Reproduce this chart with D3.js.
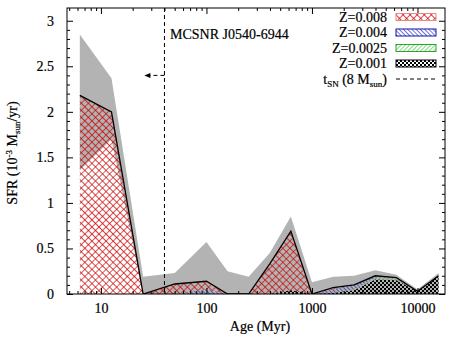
<!DOCTYPE html>
<html>
<head>
<style>
body { margin: 0; background: #fff; }
text { font-family: "Liberation Serif", "Times New Roman", serif; fill: #000; stroke: #000; stroke-width: 0.2px; }
</style>
<script src="https://d3js.org/d3.v7.min.js"></script>
</head>
<body>
<script>
// log10(age/yr) of the bins
const logAge = [6.8, 7.1, 7.4, 7.7, 8.0, 8.2, 8.4, 8.6, 8.8, 9.0, 9.2, 9.4, 9.6, 9.8, 10.0, 10.2];
// SFR per metallicity, 10^-3 Msun/yr
const z008  = [2.18, 2.0, 0, 0.11, 0.09, 0, 0, 0.33, 0.65, 0, 0.02, 0, 0, 0, 0, 0];
const z004  = [0, 0, 0, 0, 0.05, 0, 0, 0, 0, 0, 0.04, 0.05, 0.02, 0, 0, 0];
const z0025 = [0, 0, 0, 0, 0, 0, 0, 0, 0, 0, 0, 0.01, 0.02, 0.03, 0, 0];
const z001  = [0, 0, 0, 0, 0, 0, 0, 0, 0.04, 0, 0.01, 0.04, 0.16, 0.15, 0.03, 0.2];
// error band on the total
const bandLow  = [1.36, 1.7, 0, 0, 0, 0, 0, 0, 0, 0, 0, 0, 0, 0, 0, 0];
const bandHigh = [2.85, 2.37, 0.19, 0.23, 0.57, 0.25, 0.19, 0.45, 0.85, 0.13, 0.19, 0.2, 0.26, 0.21, 0.05, 0.23];
const xTicks = [10, 100, 1000, 10000];
const yTicks = [0, 0.5, 1, 1.5, 2, 2.5, 3];
const tSN = 40;          // Myr, lifetime of 8 Msun star
const arrowEnd = 25.8;   // Myr
const arrowY = 2.4;

const w = 453, h = 340;
const L = 67, R = 445, T = 8, B = 294;
const fs = 14;

const ages = logAge.map(d => Math.pow(10, d - 6));
const rows = ages.map((a, i) => ({age: a, z001: z001[i], z0025: z0025[i], z004: z004[i], z008: z008[i], lo: bandLow[i], hi: bandHigh[i]}));

const x = d3.scaleLog().domain([4.77, 18230]).range([L, R]);
const y = d3.scaleLinear().domain([0, 3.14]).range([B, T]);

const svg = d3.select("body").append("svg").attr("width", w).attr("height", h);
const defs = svg.append("defs");

// hatch patterns
const pRed = defs.append("pattern").attr("id", "pRed").attr("patternUnits", "userSpaceOnUse")
  .attr("width", 5).attr("height", 5).attr("patternTransform", "rotate(45)");
pRed.append("path").attr("d", "M0,0V5M0,0H5").attr("stroke", "#cc0000").attr("stroke-width", 1.3);

const pBlue = defs.append("pattern").attr("id", "pBlue").attr("patternUnits", "userSpaceOnUse")
  .attr("width", 3).attr("height", 3).attr("patternTransform", "rotate(-45)");
pBlue.append("path").attr("d", "M0,0V3").attr("stroke", "#1010b0").attr("stroke-width", 1.2);

const pGreen = defs.append("pattern").attr("id", "pGreen").attr("patternUnits", "userSpaceOnUse")
  .attr("width", 3).attr("height", 3).attr("patternTransform", "rotate(45)");
pGreen.append("path").attr("d", "M0,0V3").attr("stroke", "#30c030").attr("stroke-width", 1.2);

const pBlack = defs.append("pattern").attr("id", "pBlack").attr("patternUnits", "userSpaceOnUse")
  .attr("width", 4).attr("height", 4);
pBlack.append("rect").attr("x", 0).attr("y", 0).attr("width", 2).attr("height", 2).attr("fill", "#000");
pBlack.append("rect").attr("x", 2).attr("y", 2).attr("width", 2).attr("height", 2).attr("fill", "#000");

defs.append("clipPath").attr("id", "clip").append("rect")
  .attr("x", L).attr("y", T).attr("width", R - L).attr("height", B - T);

const plot = svg.append("g").attr("clip-path", "url(#clip)");

// gray error band
plot.append("path")
  .datum(rows)
  .attr("fill", "#b3b3b3")
  .attr("d", d3.area().x(d => x(d.age)).y0(d => y(d.lo)).y1(d => y(d.hi)));

// stacked metallicities
const keys = ["z001", "z0025", "z004", "z008"];
const fills = {z001: "url(#pBlack)", z0025: "url(#pGreen)", z004: "url(#pBlue)", z008: "url(#pRed)"};
const stacked = d3.stack().keys(keys)(rows);
const area = d3.area().x(d => x(d.data.age)).y0(d => y(d[0])).y1(d => y(d[1]));
plot.selectAll(".layer").data(stacked).enter().append("path")
  .attr("class", "layer")
  .attr("fill", d => fills[d.key])
  .attr("d", area);

// total line
plot.append("path")
  .datum(rows)
  .attr("fill", "none")
  .attr("stroke", "#000")
  .attr("stroke-width", 1.3)
  .attr("d", d3.line().x(d => x(d.age)).y(d => y(d.z001 + d.z0025 + d.z004 + d.z008)));

// t_SN dashed line + arrow
svg.append("line")
  .attr("x1", x(tSN)).attr("x2", x(tSN)).attr("y1", T).attr("y2", B)
  .attr("stroke", "#000").attr("stroke-width", 1).attr("stroke-dasharray", "4,3");
svg.append("line")
  .attr("x1", x(tSN)).attr("x2", x(arrowEnd) + 4).attr("y1", y(arrowY)).attr("y2", y(arrowY))
  .attr("stroke", "#000").attr("stroke-width", 1).attr("stroke-dasharray", "4,3");
svg.append("path")
  .attr("d", `M${x(arrowEnd)},${y(arrowY)}l6,-2.5v5z`)
  .attr("fill", "#000");

svg.append("text").attr("x", 170).attr("y", 38.5).attr("font-size", fs)
  .text("MCSNR J0540-6944");

// frame
svg.append("rect").attr("x", L).attr("y", T).attr("width", R - L).attr("height", B - T)
  .attr("fill", "none").attr("stroke", "#000").attr("stroke-width", 1);

// axes with inward ticks
const xMinor = [];
for (let dec = 1; dec <= 10000; dec *= 10)
  for (let k = 2; k <= 9; k++) {
    const v = k * dec;
    if (v > 4.77 && v < 18230) xMinor.push(v);
  }
const yMinor = d3.range(0, 31).map(d => d / 10).filter(d => yTicks.indexOf(d) < 0);

svg.append("g").attr("transform", `translate(0,${B})`)
  .call(d3.axisBottom(x).tickValues(xTicks).tickSize(-6).tickPadding(9).tickFormat(d3.format("d")));
svg.append("g").attr("transform", `translate(0,${B})`)
  .call(d3.axisBottom(x).tickValues(xMinor).tickSize(-3).tickFormat(""));
svg.append("g").attr("transform", `translate(0,${T})`)
  .call(d3.axisTop(x).tickValues(xTicks).tickSize(-6).tickFormat(""));
svg.append("g").attr("transform", `translate(0,${T})`)
  .call(d3.axisTop(x).tickValues(xMinor).tickSize(-3).tickFormat(""));

svg.append("g").attr("transform", `translate(${L},0)`)
  .call(d3.axisLeft(y).tickValues(yTicks).tickSize(-6).tickPadding(13).tickFormat(d => d));
svg.append("g").attr("transform", `translate(${L},0)`)
  .call(d3.axisLeft(y).tickValues(yMinor).tickSize(-3).tickFormat(""));
svg.append("g").attr("transform", `translate(${R},0)`)
  .call(d3.axisRight(y).tickValues(yTicks).tickSize(-6).tickFormat(""));
svg.append("g").attr("transform", `translate(${R},0)`)
  .call(d3.axisRight(y).tickValues(yMinor).tickSize(-3).tickFormat(""));

svg.selectAll(".domain").remove();
svg.selectAll(".tick line").attr("stroke", "#000");
svg.selectAll(".tick text").attr("font-size", fs)
  .attr("font-family", "'Liberation Serif', serif");

// axis titles
svg.append("text").attr("x", 260).attr("y", 331).attr("text-anchor", "middle").attr("font-size", fs)
  .text("Age (Myr)");

const yl = svg.append("text").attr("transform", "translate(17,153) rotate(-90)")
  .attr("text-anchor", "middle").attr("font-size", fs);
yl.append("tspan").text("SFR (10");
yl.append("tspan").attr("font-size", 9).attr("dy", -5).text("-3");
yl.append("tspan").attr("dy", 5).text(" M");
yl.append("tspan").attr("font-size", 9).attr("dy", 3).text("sun");
yl.append("tspan").attr("dy", -3).text("/yr)");

// legend
const legend = [
  {label: "Z=0.008", fill: "url(#pRed)", stroke: "#e88"},
  {label: "Z=0.004", fill: "url(#pBlue)", stroke: "#1010b0"},
  {label: "Z=0.0025", fill: "url(#pGreen)", stroke: "#30a030"},
  {label: "Z=0.001", fill: "url(#pBlack)", stroke: "#000"}
];
const rowY = [17, 32.5, 48, 63.5, 79];
legend.forEach((d, i) => {
  svg.append("text").attr("x", 387).attr("y", rowY[i] + 4.5).attr("text-anchor", "end")
    .attr("font-size", fs).text(d.label);
  svg.append("rect").attr("x", 396).attr("y", rowY[i] - 3.5).attr("width", 40).attr("height", 7)
    .attr("fill", d.fill).attr("stroke", d.stroke).attr("stroke-width", 1);
});
const tl = svg.append("text").attr("x", 387).attr("y", rowY[4] + 4.5).attr("text-anchor", "end")
  .attr("font-size", fs);
tl.append("tspan").text("t");
tl.append("tspan").attr("font-size", 9).attr("dy", 3).text("SN");
tl.append("tspan").attr("dy", -3).text(" (8 M");
tl.append("tspan").attr("font-size", 9).attr("dy", 3).text("sun");
tl.append("tspan").attr("dy", -3).text(")");
svg.append("line").attr("x1", 396).attr("x2", 436).attr("y1", rowY[4]).attr("y2", rowY[4])
  .attr("stroke", "#000").attr("stroke-width", 1).attr("stroke-dasharray", "4,3");
</script>
</body>
</html>
